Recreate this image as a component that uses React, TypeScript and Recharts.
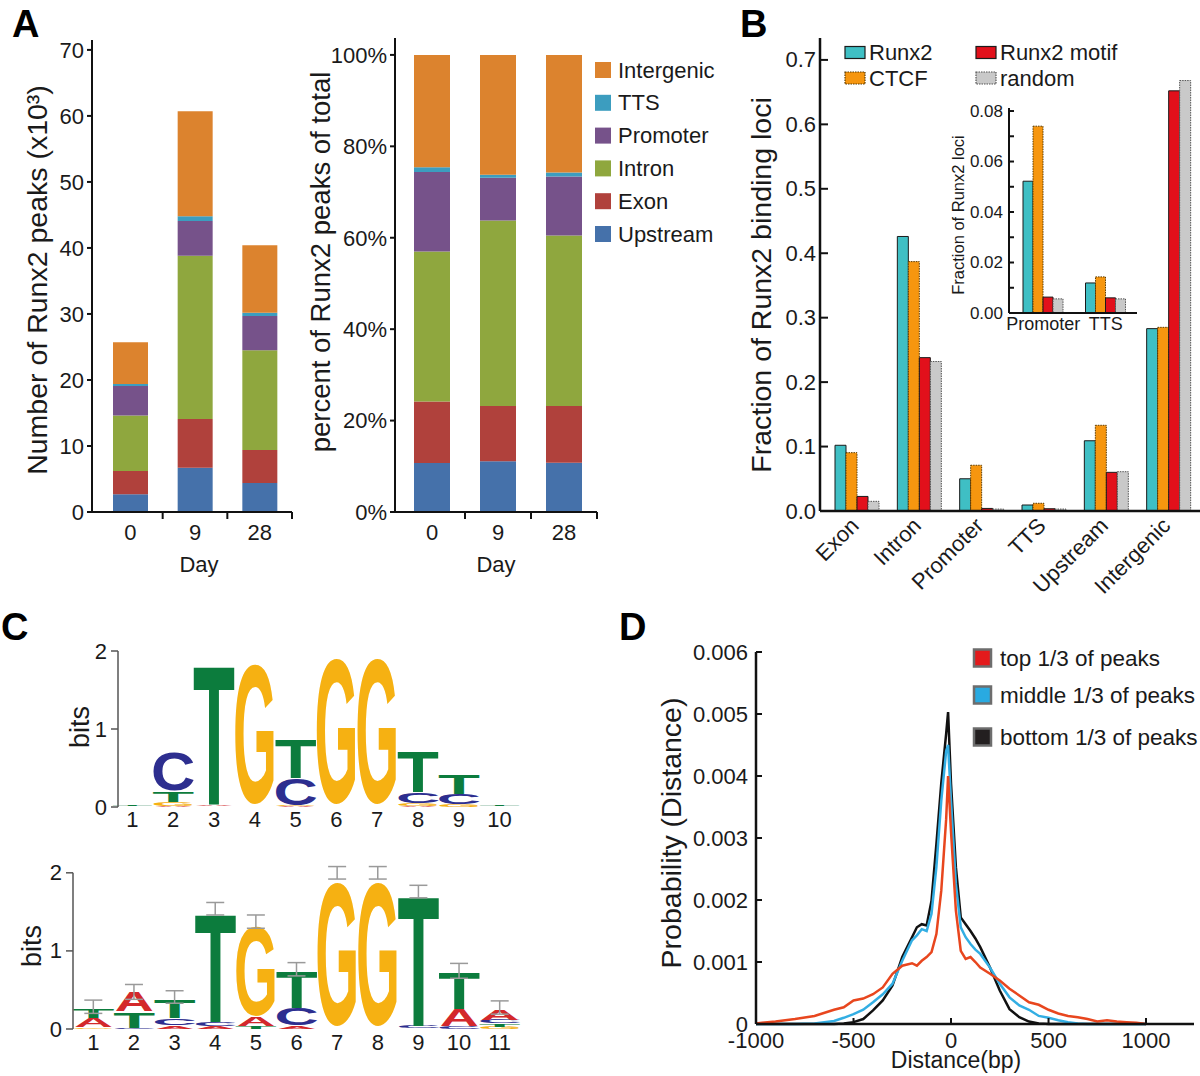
import React from 'react';
import { BarChart, Bar, XAxis, YAxis, ComposedChart, Scatter, ErrorBar, LineChart, Line } from 'recharts';

const FONT = '"Liberation Sans", Arial, Helvetica, sans-serif';
const AXIS = '#111111';
const TEXT = '#1a1a1a';

// ---------------- Panel A data ----------------
const days = ['0', '9', '28'];
const regionNames = ['Upstream', 'Exon', 'Intron', 'Promoter', 'TTS', 'Intergenic'];
const regionColors = ['#4571AA', '#B0413C', '#8FA73E', '#76528A', '#3C9DBF', '#DC832E'];
const peaksUpstream = [2.7, 6.7, 4.4];
const peaksExon = [3.5, 7.4, 5.0];
const peaksIntron = [8.4, 24.7, 15.1];
const peaksPromoter = [4.5, 5.3, 5.2];
const peaksTTS = [0.3, 0.7, 0.5];
const peaksIntergenic = [6.3, 15.9, 10.2];
const pctUpstream = [10.7, 11.1, 10.8];
const pctExon = [13.5, 12.1, 12.4];
const pctIntron = [32.8, 40.6, 37.3];
const pctPromoter = [17.4, 9.3, 12.9];
const pctTTS = [1.0, 0.7, 0.9];
const pctIntergenic = [24.6, 26.2, 25.7];
const countTicks = [0, 10, 20, 30, 40, 50, 60, 70];
const pctTicks = [0, 20, 40, 60, 80, 100];

// ---------------- Panel B data ----------------
const lociCategories = ['Exon', 'Intron', 'Promoter', 'TTS', 'Upstream', 'Intergenic'];
const fracRunx2 = [0.102, 0.426, 0.05, 0.0093, 0.109, 0.283];
const fracCTCF = [0.0905, 0.387, 0.071, 0.012, 0.133, 0.285];
const fracMotif = [0.0226, 0.238, 0.004, 0.0035, 0.06, 0.652];
const fracRandom = [0.015, 0.232, 0.003, 0.003, 0.061, 0.668];
const fracTicks = [0, 0.1, 0.2, 0.3, 0.4, 0.5, 0.6, 0.7];
const insetCategories = ['Promoter', 'TTS'];
const insetRunx2 = [0.0522, 0.0119];
const insetCTCF = [0.074, 0.0143];
const insetMotif = [0.0063, 0.006];
const insetRandom = [0.0056, 0.0056];
const insetTicks = [0, 0.01, 0.02, 0.03, 0.04, 0.05, 0.06, 0.07, 0.08];
const seriesB = [
  { key: 'Runx2', color: '#3FBFC4', stroke: '#1b1b1b', dash: undefined as string | undefined },
  { key: 'CTCF', color: '#F6960F', stroke: '#5a3a00', dash: '1.5 1' },
  { key: 'Runx2 motif', color: '#E2101B', stroke: '#1b1b1b', dash: undefined as string | undefined },
  { key: 'random', color: '#C9C9C9', stroke: '#555555', dash: '1.5 1' },
];

// ---------------- Panel C data ----------------
const topLogoPositions = ['1', '2', '3', '4', '5', '6', '7', '8', '9', '10'];
const topLogoLetters = [
  ['A', 'C', 'G', 'T'],
  ['A', 'G', 'T', 'C'],
  ['G', 'C', 'A', 'T'],
  ['A', 'C', 'T', 'G'],
  ['A', 'G', 'C', 'T'],
  ['A', 'C', 'T', 'G'],
  ['A', 'C', 'T', 'G'],
  ['A', 'G', 'C', 'T'],
  ['A', 'G', 'C', 'T'],
  ['A', 'C', 'G', 'T'],
];
const topLogoBits = [
  [0.004, 0.005, 0.006, 0.008],
  [0.01, 0.05, 0.14, 0.52],
  [0.004, 0.004, 0.012, 1.82],
  [0.004, 0.004, 0.006, 1.91],
  [0.01, 0.01, 0.35, 0.51],
  [0.003, 0.003, 0.004, 1.97],
  [0.003, 0.003, 0.004, 1.97],
  [0.01, 0.04, 0.14, 0.52],
  [0.005, 0.025, 0.14, 0.25],
  [0.004, 0.005, 0.006, 0.008],
];
const topLogoErrLine = [0.06, 0.75, 1.87, 1.94, 0.91, 2.0, 2.0, 0.74, 0.455, 0.05];

const bottomLogoPositions = ['1', '2', '3', '4', '5', '6', '7', '8', '9', '10', '11'];
const bottomLogoLetters = [
  ['C', 'G', 'A', 'T'],
  ['G', 'C', 'T', 'A'],
  ['G', 'A', 'C', 'T'],
  ['G', 'A', 'C', 'T'],
  ['C', 'T', 'A', 'G'],
  ['G', 'A', 'C', 'T'],
  ['A', 'C', 'T', 'G'],
  ['A', 'C', 'T', 'G'],
  ['A', 'G', 'C', 'T'],
  ['G', 'C', 'A', 'T'],
  ['G', 'T', 'C', 'A'],
];
const bottomLogoBits = [
  [0.005, 0.02, 0.12, 0.12],
  [0.005, 0.01, 0.21, 0.25],
  [0.005, 0.04, 0.09, 0.24],
  [0.005, 0.03, 0.05, 1.42],
  [0.005, 0.03, 0.12, 1.21],
  [0.005, 0.04, 0.23, 0.47],
  [0.003, 0.004, 0.005, 1.95],
  [0.003, 0.004, 0.005, 1.95],
  [0.005, 0.005, 0.03, 1.7],
  [0.005, 0.03, 0.22, 0.47],
  [0.03, 0.04, 0.05, 0.14],
];
const bottomLogoErrLow = [0.2, 0.38, 0.33, 1.46, 1.29, 0.68, 1.92, 1.92, 1.68, 0.65, 0.19];
const bottomLogoErrHigh = [0.37, 0.57, 0.49, 1.62, 1.46, 0.85, 2.08, 2.08, 1.84, 0.84, 0.36];
const bitsTicks = [0, 1, 2];

// ---------------- Panel D data ----------------
const distances = [-1000, -900, -800, -700, -600, -550, -500, -450, -400, -350, -300, -250, -200, -175, -150, -125, -100, -75, -50, -25, -15, 0, 25, 50, 75, 100, 125, 150, 200, 250, 300, 350, 400, 450, 500, 550, 600, 650, 700, 750, 800, 850, 900, 950, 1000];
const probTop = [0.00001, 0.00004, 0.00008, 0.00013, 0.00023, 0.00027, 0.00038, 0.00041, 0.00048, 0.00059, 0.00081, 0.00094, 0.00098, 0.00094, 0.00102, 0.00108, 0.00116, 0.00145, 0.00215, 0.0033, 0.004, 0.0031, 0.00183, 0.00118, 0.00105, 0.00108, 0.001, 0.00091, 0.00081, 0.0007, 0.00057, 0.00046, 0.00035, 0.00031, 0.00023, 0.00017, 0.00013, 0.00011, 0.00008, 0.00004, 0.00006, 0.00004, 0.00003, 0.00002, 0.0];
const probMiddle = [0, 0, 0, 0.00001, 0.00005, 0.0001, 0.00016, 0.00023, 0.00035, 0.00048, 0.00065, 0.00102, 0.00135, 0.00143, 0.00153, 0.0015, 0.00178, 0.00253, 0.0036, 0.0044, 0.0045, 0.0036, 0.00226, 0.00156, 0.0014, 0.00129, 0.0012, 0.00113, 0.00091, 0.00065, 0.00043, 0.0003, 0.00023, 0.00013, 0.0001, 0.00006, 0.00003, 0.00001, 0, 0, 0, 0, 0, 0, 0];
const probBottom = [0, 0, 0, 0, 0, 0.00001, 0.00003, 0.00008, 0.00022, 0.00038, 0.00062, 0.00108, 0.0014, 0.00156, 0.00161, 0.00159, 0.00199, 0.0029, 0.00388, 0.00468, 0.00503, 0.00388, 0.00253, 0.00172, 0.00161, 0.0015, 0.00138, 0.00124, 0.00091, 0.00054, 0.00024, 0.00011, 0.00004, 0.00001, 0, 0, 0, 0, 0, 0, 0, 0, 0, 0, 0];
const distTicks = [-1000, -500, 0, 500, 1000];
const probTicks = [0, 0.001, 0.002, 0.003, 0.004, 0.005, 0.006];
const seriesD = [
  { key: 'bottom', name: 'bottom 1/3 of peaks', line: '#111111', swatch: '#231F20' },
  { key: 'middle', name: 'middle 1/3 of peaks', line: '#33AEE3', swatch: '#29AAE1' },
  { key: 'top', name: 'top 1/3 of peaks', line: '#E8461E', swatch: '#E31A1C' },
];

// ---------------- table builders ----------------
const countSeries = [peaksUpstream, peaksExon, peaksIntron, peaksPromoter, peaksTTS, peaksIntergenic];
const pctSeries = [pctUpstream, pctExon, pctIntron, pctPromoter, pctTTS, pctIntergenic];
const countRows = days.map((day, i) => {
  const row: any = { day };
  regionNames.forEach((r, k) => { row[r] = countSeries[k][i]; });
  return row;
});
const pctRows = days.map((day, i) => {
  const row: any = { day };
  regionNames.forEach((r, k) => { row[r] = pctSeries[k][i]; });
  return row;
});
const bValues = [fracRunx2, fracCTCF, fracMotif, fracRandom];
const lociRows = lociCategories.map((cat, i) => {
  const row: any = { cat };
  seriesB.forEach((s, k) => { row[s.key] = bValues[k][i]; });
  return row;
});
const insetValues = [insetRunx2, insetCTCF, insetMotif, insetRandom];
const insetRows = insetCategories.map((cat, i) => {
  const row: any = { cat };
  seriesB.forEach((s, k) => { row[s.key] = insetValues[k][i]; });
  return row;
});
const topLogoRows = topLogoPositions.map((pos, i) => {
  const row: any = { pos, errMid: topLogoErrLine[i], errHalf: 0 };
  topLogoLetters[i].forEach((L, r) => { row[`L${r}`] = L; row[`h${r}`] = topLogoBits[i][r]; });
  return row;
});
const bottomLogoRows = bottomLogoPositions.map((pos, i) => {
  const row: any = {
    pos,
    errMid: (bottomLogoErrLow[i] + bottomLogoErrHigh[i]) / 2,
    errHalf: (bottomLogoErrHigh[i] - bottomLogoErrLow[i]) / 2,
  };
  bottomLogoLetters[i].forEach((L, r) => { row[`L${r}`] = L; row[`h${r}`] = bottomLogoBits[i][r]; });
  return row;
});
const distRows = distances.map((d, i) => ({ d, top: probTop[i], middle: probMiddle[i], bottom: probBottom[i] }));

// ---------------- custom pieces ----------------
function DayTick(props: any) {
  const { x, y, payload, band, gap } = props;
  const axisY = y - gap;
  return (
    <g>
      <line x1={x + band / 2} x2={x + band / 2} y1={axisY} y2={axisY + 7} stroke={AXIS} strokeWidth={2} />
      <text x={x} y={y} dy="0.71em" textAnchor="middle" fontSize={22} fill={TEXT}>{payload.value}</text>
    </g>
  );
}

function InTickY(props: any) {
  const { y, payload, axisX, len, gap, fontSize, fmt } = props;
  return (
    <g>
      <line x1={axisX} x2={axisX + len} y1={y} y2={y} stroke={AXIS} strokeWidth={2} />
      <text x={axisX - gap} y={y} textAnchor="end" dominantBaseline="central" fontSize={fontSize} fill={TEXT}>{fmt(payload.value)}</text>
    </g>
  );
}

function InTickX(props: any) {
  const { x, y, payload, gap } = props;
  const axisY = y - gap;
  return (
    <g>
      <line x1={x} x2={x} y1={axisY} y2={axisY - 6} stroke={AXIS} strokeWidth={2} />
      <text x={x} y={y} dy="0.71em" textAnchor="middle" fontSize={22} fill={TEXT}>{payload.value}</text>
    </g>
  );
}

function RotTick(props: any) {
  const { x, y, payload } = props;
  return (
    <text transform={`translate(${x + 3},${y}) rotate(-45)`} textAnchor="end" fontSize={22} fill={TEXT}>{payload.value}</text>
  );
}

function LogoYTick(props: any) {
  const { y, payload, axisX, pxPerBit, topVal } = props;
  return (
    <g>
      {payload.value === 0 ? (
        <line x1={axisX} x2={axisX} y1={y} y2={y - topVal * pxPerBit} stroke="#555" strokeWidth={1.5} />
      ) : null}
      <line x1={axisX - 7} x2={axisX} y1={y} y2={y} stroke="#555" strokeWidth={1.5} />
      <text x={axisX - 11} y={y} textAnchor="end" dominantBaseline="central" fontSize={22} fill={TEXT}>{payload.value}</text>
    </g>
  );
}

const GLYPHS: Record<string, { l: number; w: number; b: number; t: number }> = {
  A: { l: 0, w: 722, b: 0, t: 716 },
  C: { l: 44, w: 636, b: -19, t: 735 },
  G: { l: 44, w: 690, b: -19, t: 735 },
  T: { l: 22, w: 568, b: 0, t: 716 },
};
const LETTER_COLORS: Record<string, string> = { A: '#D3282B', C: '#2D2E8F', G: '#F6B112', T: '#0C7C3D' };

function makeLetterShape(rank: number) {
  return (props: any) => {
    const { x, y, width, height, payload } = props;
    const h = Math.abs(height || 0);
    if (!payload || h < 0.4 || !width) return <g />;
    const letter = payload[`L${rank}`];
    const g = GLYPHS[letter];
    const fs = 100;
    const sx = width / ((g.w * fs) / 1000);
    const sy = h / (((g.t - g.b) * fs) / 1000);
    const top = height >= 0 ? y : y + height;
    const tx = x - ((g.l * fs) / 1000) * sx;
    const ty = top + h + ((g.b * fs) / 1000) * sy;
    return (
      <text transform={`translate(${tx},${ty}) scale(${sx},${sy})`} fontSize={fs} fontWeight="bold" fontFamily={FONT} fill={LETTER_COLORS[letter]}>
        {letter}
      </text>
    );
  };
}

const VTitle = ({ cx, cy, size, children }: any) => (
  <text transform={`translate(${cx},${cy}) rotate(-90)`} textAnchor="middle" dominantBaseline="central" fontSize={size} fill={TEXT}>
    {children}
  </text>
);

function Overlay() {
  const legendA = regionNames.map((n, i) => ({ n, c: regionColors[i] })).reverse();
  const legendBPos = [
    { x: 845, cy: 52.5 },
    { x: 845, cy: 78 },
    { x: 976, cy: 52.5 },
    { x: 976, cy: 78 },
  ];
  const legendD = [...seriesD].reverse();
  return (
    <svg width={1200} height={1076} style={{ position: 'absolute', left: 0, top: 0, pointerEvents: 'none' }}>
      <text x={12} y={37} fontSize={38} fontWeight="bold" fill="#000">A</text>
      <text x={740} y={37} fontSize={38} fontWeight="bold" fill="#000">B</text>
      <text x={1} y={640} fontSize={38} fontWeight="bold" fill="#000">C</text>
      <text x={619} y={640} fontSize={38} fontWeight="bold" fill="#000">D</text>

      <VTitle cx={37} cy={280} size={28.5}>Number of Runx2 peaks (x10³)</VTitle>
      <text x={199} y={572} textAnchor="middle" fontSize={22} fill={TEXT}>Day</text>
      <VTitle cx={320} cy={262} size={27.5}>percent of Runx2 peaks of total</VTitle>
      <text x={496} y={572} textAnchor="middle" fontSize={22} fill={TEXT}>Day</text>
      {legendA.map((it, k) => (
        <g key={it.n}>
          <rect x={595} y={70 + k * 32.8 - 8} width={16} height={16} fill={it.c} />
          <text x={618} y={70 + k * 32.8} dominantBaseline="central" fontSize={22} fill={TEXT}>{it.n}</text>
        </g>
      ))}

      <VTitle cx={761} cy={285} size={28.5}>Fraction of Runx2 binding loci</VTitle>
      {seriesB.map((s, k) => (
        <g key={s.key}>
          <rect x={legendBPos[k].x} y={legendBPos[k].cy - 6} width={20} height={12} fill={s.color} stroke={s.stroke} strokeWidth={1.2} strokeDasharray={s.dash} />
          <text x={legendBPos[k].x + 24} y={legendBPos[k].cy} dominantBaseline="central" fontSize={22} fill={TEXT}>{s.key}</text>
        </g>
      ))}
      <VTitle cx={958} cy={215} size={16.5}>Fraction of Runx2 loci</VTitle>

      <VTitle cx={80} cy={727} size={27}>bits</VTitle>
      <VTitle cx={32} cy={946} size={27}>bits</VTitle>

      <VTitle cx={671} cy={833} size={28.5}>Probability (Distance)</VTitle>
      <text x={956} y={1068} textAnchor="middle" fontSize={23} fill={TEXT}>Distance(bp)</text>
      {legendD.map((s, k) => {
        const cy = [658, 695, 737][k];
        return (
          <g key={s.key}>
            <rect x={974} y={cy - 8.5} width={17} height={17} fill={s.swatch} stroke="#6d6d6d" strokeWidth={2.5} />
            <text x={1000} y={cy} dominantBaseline="central" fontSize={22.5} fill={TEXT}>{s.name}</text>
          </g>
        );
      })}
    </svg>
  );
}

export default function App() {
  return (
    <div style={{ position: 'absolute', left: 0, top: 0, width: 1200, height: 1076, background: '#fff', fontFamily: FONT, overflow: 'hidden' }}>
      {/* A: counts */}
      <div style={{ position: 'absolute', left: 0, top: 0 }}>
        <BarChart width={340} height={600} data={countRows} margin={{ top: 40, right: 48, bottom: 48, left: 0 }} barSize={35}>
          <XAxis dataKey="day" height={40} padding={{ left: 6, right: 0 }} axisLine={{ stroke: AXIS, strokeWidth: 2 }} tickLine={false} tickSize={0} tickMargin={12} interval={0}
            tick={(p: any) => <DayTick {...p} band={64.67} gap={12} />} />
          <YAxis width={92} domain={[0, 71.5]} ticks={countTicks} axisLine={{ stroke: AXIS, strokeWidth: 2 }} tickLine={{ stroke: AXIS, strokeWidth: 2 }} tickSize={5} tickMargin={3} tick={{ fontSize: 22, fill: TEXT }} />
          {regionNames.map((r, i) => (
            <Bar key={r} dataKey={r} stackId="a" fill={regionColors[i]} isAnimationActive={false} />
          ))}
        </BarChart>
      </div>
      {/* A: percent */}
      <div style={{ position: 'absolute', left: 300, top: 0 }}>
        <BarChart width={310} height={600} data={pctRows} margin={{ top: 38, right: 13, bottom: 48, left: 0 }} barSize={36}>
          <XAxis dataKey="day" height={40} padding={{ left: 4, right: 0 }} axisLine={{ stroke: AXIS, strokeWidth: 2 }} tickLine={false} tickSize={0} tickMargin={12} interval={0}
            tick={(p: any) => <DayTick {...p} band={66} gap={12} />} />
          <YAxis width={95} domain={[0, 103.7]} ticks={pctTicks} tickFormatter={(v: number) => `${v}%`} axisLine={{ stroke: AXIS, strokeWidth: 2 }} tickLine={{ stroke: AXIS, strokeWidth: 2 }} tickSize={5} tickMargin={3} tick={{ fontSize: 22, fill: TEXT }} />
          {regionNames.map((r, i) => (
            <Bar key={r} dataKey={r} stackId="a" fill={regionColors[i]} isAnimationActive={false} />
          ))}
        </BarChart>
      </div>
      {/* B main */}
      <div style={{ position: 'absolute', left: 720, top: 0 }}>
        <BarChart width={480} height={600} data={lociRows} margin={{ top: 38, right: 0, bottom: 49, left: 0 }} barSize={11} barGap={0}>
          <XAxis dataKey="cat" height={40} padding={{ left: 6, right: 0 }} axisLine={{ stroke: AXIS, strokeWidth: 2.5 }} tickLine={false} tickSize={0} tickMargin={16} interval={0}
            tick={(p: any) => <RotTick {...p} />} />
          <YAxis width={100} domain={[0, 0.734]} ticks={fracTicks} axisLine={{ stroke: AXIS, strokeWidth: 2.5 }} tickLine={false}
            tick={(p: any) => <InTickY {...p} axisX={100} len={8} gap={4} fontSize={22} fmt={(v: number) => v.toFixed(1)} />} />
          {seriesB.map((s) => (
            <Bar key={s.key} dataKey={s.key} fill={s.color} stroke={s.stroke} strokeWidth={1} strokeDasharray={s.dash} isAnimationActive={false} />
          ))}
        </BarChart>
      </div>
      {/* B inset */}
      <div style={{ position: 'absolute', left: 940, top: 90 }}>
        <BarChart width={200} height={260} data={insetRows} margin={{ top: 18, right: 3, bottom: 7, left: 0 }} barSize={10} barGap={0}>
          <XAxis dataKey="cat" height={30} padding={{ left: 3, right: 0 }} axisLine={{ stroke: AXIS, strokeWidth: 2 }} tickLine={false} tickSize={0} tickMargin={4} interval={0} tick={{ fontSize: 18, fill: TEXT }} />
          <YAxis width={69} domain={[0, 0.0812]} ticks={insetTicks} axisLine={{ stroke: AXIS, strokeWidth: 2 }} tickLine={false}
            tick={(p: any) => <InTickY {...p} axisX={69} len={5} gap={6} fontSize={17} fmt={(v: number) => (Math.round(v * 100) % 2 === 0 ? v.toFixed(2) : '')} />} />
          {seriesB.map((s) => (
            <Bar key={s.key} dataKey={s.key} fill={s.color} stroke={s.stroke} strokeWidth={1} strokeDasharray={s.dash} isAnimationActive={false} />
          ))}
        </BarChart>
      </div>
      {/* C top logo */}
      <div style={{ position: 'absolute', left: 0, top: 560 }}>
        <ComposedChart width={560} height={280} data={topLogoRows} margin={{ top: 91, right: 40, bottom: 3, left: 0 }} barCategoryGap={1}>
          <XAxis dataKey="pos" height={30} axisLine={false} tickLine={false} tickSize={0} tickMargin={4} interval={0} tick={{ fontSize: 22, fill: TEXT }} />
          <YAxis width={112} domain={[0, 2]} ticks={bitsTicks} axisLine={false} tickLine={false}
            tick={(p: any) => <LogoYTick {...p} axisX={118} pxPerBit={78} topVal={2} />} />
          {[0, 1, 2, 3].map((r) => (
            <Bar key={r} dataKey={`h${r}`} stackId="s" isAnimationActive={false} shape={makeLetterShape(r)} />
          ))}
          <Scatter dataKey="errMid" isAnimationActive={false} shape={() => <g />}>
            <ErrorBar dataKey="errHalf" direction="y" width={9} stroke="#9a9a9a" strokeWidth={2} />
          </Scatter>
        </ComposedChart>
      </div>
      {/* C bottom logo */}
      <div style={{ position: 'absolute', left: 0, top: 820 }}>
        <ComposedChart width={560} height={256} data={bottomLogoRows} margin={{ top: 45, right: 40, bottom: 17, left: 0 }} barCategoryGap={1}>
          <XAxis dataKey="pos" height={30} axisLine={false} tickLine={false} tickSize={0} tickMargin={5} interval={0} tick={{ fontSize: 22, fill: TEXT }} />
          <YAxis width={73} domain={[0, 2.1]} ticks={bitsTicks} axisLine={false} tickLine={false}
            tick={(p: any) => <LogoYTick {...p} axisX={73} pxPerBit={164 / 2.1} topVal={2} />} />
          {[0, 1, 2, 3].map((r) => (
            <Bar key={r} dataKey={`h${r}`} stackId="s" isAnimationActive={false} shape={makeLetterShape(r)} />
          ))}
          <Scatter dataKey="errMid" isAnimationActive={false} shape={() => <g />}>
            <ErrorBar dataKey="errHalf" direction="y" width={9} stroke="#9a9a9a" strokeWidth={1.5} />
          </Scatter>
        </ComposedChart>
      </div>
      {/* D */}
      <div style={{ position: 'absolute', left: 600, top: 600 }}>
        <LineChart width={600} height={476} data={distRows} margin={{ top: 52, right: 6, bottom: 22, left: 0 }}>
          <XAxis dataKey="d" type="number" domain={[-1000, 1246]} ticks={distTicks} height={30} axisLine={{ stroke: AXIS, strokeWidth: 2.5 }} tickLine={false} tickSize={0} tickMargin={8}
            tick={(p: any) => <InTickX {...p} gap={8} />} />
          <YAxis width={156} domain={[0, 0.006]} ticks={probTicks} axisLine={{ stroke: AXIS, strokeWidth: 2.5 }} tickLine={false}
            tick={(p: any) => <InTickY {...p} axisX={156} len={6} gap={8} fontSize={22} fmt={(v: number) => (v === 0 ? '0' : v.toFixed(3))} />} />
          {seriesD.map((s) => (
            <Line key={s.key} dataKey={s.key} type="linear" stroke={s.line} strokeWidth={2.5} dot={false} isAnimationActive={false} />
          ))}
        </LineChart>
      </div>
      <Overlay />
    </div>
  );
}
